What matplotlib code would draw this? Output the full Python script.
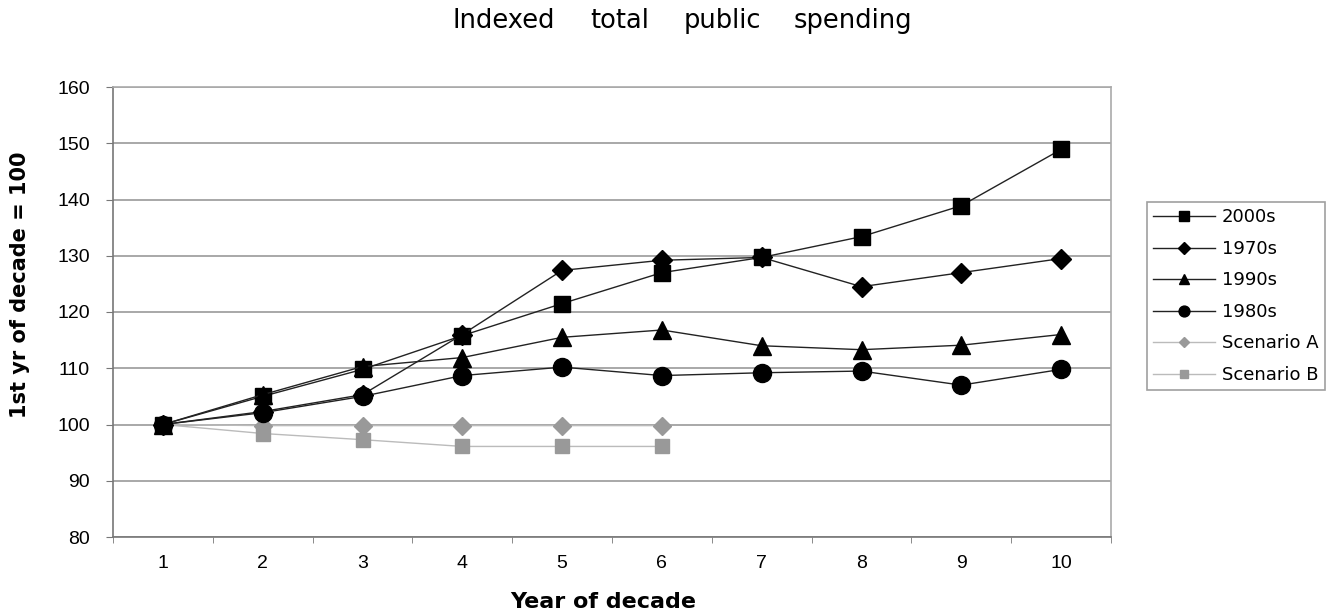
import matplotlib.pyplot as plt
import numpy as np

plt.rcParams['font.family'] = ['Liberation Sans', 'DejaVu Sans']

years = [1, 2, 3, 4, 5, 6, 7, 8, 9, 10]
s2000 = [100, 105.0, 109.8, 115.8, 121.5, 127.0, 129.7, 133.4, 138.9, 148.9]
s1970 = [100, 102.3, 105.3, 116.0, 127.4, 129.2, 129.7, 124.5, 127.0, 129.5]
s1990 = [100, 105.3, 110.3, 111.9, 115.5, 116.8, 114.0, 113.3, 114.1, 116.0]
s1980 = [100, 102.1, 105.0, 108.7, 110.2, 108.7, 109.2, 109.5, 107.0, 109.8]
scen_a = [100, 99.8, 99.8, 99.8, 99.8, 99.8]
scen_b = [100, 98.4, 97.3, 96.1, 96.1, 96.1]

title_words = ['Indexed', 'total', 'public', 'spending']
title_x = [504, 620, 722, 853]

fig = plt.figure(figsize=(13.34, 6.12), dpi=100)
ax = fig.add_axes([113/1334, 1 - 537/612, (1111-113)/1334, (537-87)/612])

ax.plot(years, s2000, color='#222222', lw=1, marker='s', ms=11, mfc='black', mec='black', label='2000s', zorder=5)
ax.plot(years, s1970, color='#222222', lw=1, marker='D', ms=10, mfc='black', mec='black', label='1970s', zorder=5)
ax.plot(years, s1990, color='#222222', lw=1, marker='^', ms=13, mfc='black', mec='black', label='1990s', zorder=5)
ax.plot(years, s1980, color='#222222', lw=1, marker='o', ms=13, mfc='black', mec='black', label='1980s', zorder=5)
ax.plot(years[:6], scen_a, color='#bbbbbb', lw=1, marker='D', ms=9, mfc='#999999', mec='#999999', label='Scenario A', zorder=4)
ax.plot(years[:6], scen_b, color='#bbbbbb', lw=1, marker='s', ms=10, mfc='#999999', mec='#999999', label='Scenario B', zorder=4)

ax.set_xlim(0.5, 10.5)
ax.set_ylim(80, 160)
ax.set_yticks(np.arange(80, 161, 10))
ax.set_xticks(years)
ax.set_xticks(np.arange(0.5, 10.6, 1), minor=True)
ax.tick_params(axis='x', which='major', length=0, pad=13, labelsize=14)
ax.tick_params(axis='x', which='minor', length=4.5, color='#777777', direction='out')
ax.tick_params(axis='y', length=5, color='#777777', direction='out', pad=11.5, labelsize=14)
ax.grid(axis='y', color='#999999', lw=1.2)
for sp in ax.spines.values():
    sp.set_color('#aaaaaa')
    sp.set_linewidth(1.2)
ax.spines['left'].set_color('#777777')
ax.spines['bottom'].set_color('#777777')

ax.set_xlabel('Year of decade', fontsize=16, fontweight='bold', family='DejaVu Sans', va='center')
ax.xaxis.set_label_coords((603-113)/998, (537-602)/450)
ax.set_ylabel('1st yr of decade = 100', fontsize=15, fontweight='bold', family='DejaVu Sans', va='center')
ax.yaxis.set_label_coords((20-113)/998, (537-285)/450)

for w, x in zip(title_words, title_x):
    fig.text(x/1334, 1 - 21/612, w, ha='center', va='center', fontsize=18.5, family='DejaVu Sans')

leg = fig.legend(loc='upper left', bbox_to_anchor=(1147/1334, 1 - 202/612), frameon=True,
                 fancybox=False, edgecolor='#888888', handlelength=3.4,
                 labelspacing=0.75, borderpad=0.35, borderaxespad=0, handletextpad=0.4,
                 markerscale=0.6, prop={'family': 'DejaVu Sans', 'size': 13})
leg.get_frame().set_linewidth(1.2)

fig.savefig('out.png', dpi=100)
